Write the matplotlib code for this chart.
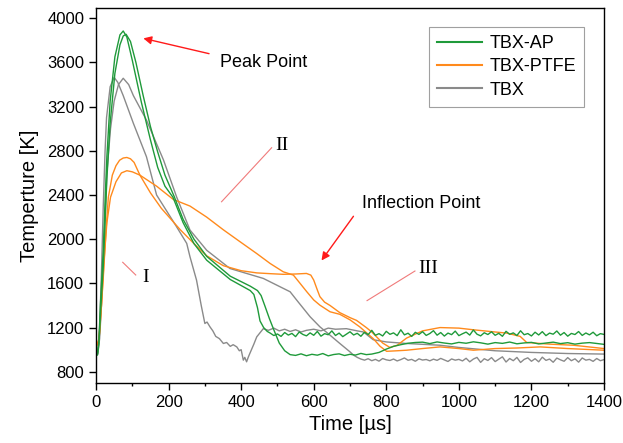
import numpy as np
import matplotlib
matplotlib.use("Agg")
import matplotlib.pyplot as plt

plt.rcParams['font.family'] = ['Liberation Sans', 'DejaVu Sans']

# ---- data (time in us, temperature in K) ----
# TBX-AP, test 1 (early drop, noisy tail)
ap1_t = [0, 4, 8, 12, 20, 25, 30, 39, 52, 66, 75, 85, 100, 125, 150, 170, 190, 212,
         240, 270, 305, 370, 425, 435, 445, 452, 462, 472]
ap1_T = [1000, 960, 1080, 1400, 1900, 2350, 2750, 3250, 3650, 3850, 3885, 3830, 3620,
         3240, 2900, 2650, 2480, 2380, 2150, 1960, 1810, 1635, 1535, 1500, 1380, 1260,
         1200, 1165]
ap1_tail_T = [1150, 1128, 1142, 1120, 1155, 1132, 1147, 1118, 1160, 1138,
              1125, 1152, 1130, 1165, 1122, 1145, 1135, 1170, 1128, 1150,
              1118, 1140, 1162, 1133, 1148, 1121, 1158, 1136, 1175, 1130,
              1145, 1124, 1166, 1139, 1152, 1127, 1180, 1134, 1149, 1120,
              1157, 1138, 1163, 1129, 1146, 1172, 1131, 1155, 1123, 1150,
              1136, 1168, 1127, 1144, 1159, 1132, 1178, 1140, 1125, 1153,
              1137, 1162, 1130, 1148, 1121, 1166, 1139, 1152, 1128, 1171,
              1135, 1146, 1124, 1158, 1133, 1163, 1127, 1150, 1140, 1169,
              1131, 1155, 1122, 1147, 1137, 1164, 1129, 1151, 1134, 1158,
              1126, 1145, 1138]

# TBX-AP, test 2 (later drop, low flat then recovery)
ap2_t = [0, 4, 8, 12, 20, 25, 30, 39, 52, 66, 75, 83, 95, 110, 130, 150, 170, 190,
         215, 240, 270, 305, 370, 425, 445, 455, 465, 478, 490, 505, 520]
ap2_T = [980, 950, 1050, 1300, 1750, 2150, 2550, 3050, 3500, 3760, 3840, 3855, 3790,
         3600, 3300, 3020, 2790, 2580, 2390, 2180, 2000, 1845, 1665, 1575, 1535, 1490,
         1400, 1280, 1180, 1060, 990]
ap2_flat_T = [955, 948, 962, 945, 958, 950, 965, 944, 956, 962, 947, 958, 951, 966, 955, 960]
ap2_rise_t = [780, 800, 820, 840, 860, 880]
ap2_rise_T = [975, 1005, 1030, 1045, 1058, 1065]
ap2_tail_T = [1068, 1055, 1070, 1060, 1052, 1066, 1058, 1071, 1062, 1050, 1064, 1057, 1069,
              1053, 1061, 1066, 1052, 1060, 1068, 1055, 1063, 1050, 1059, 1064, 1056, 1048]

# TBX-PTFE, test 1 (plateau / inflection point)
pt1_t = [0, 4, 8, 14, 20, 27, 34, 45, 55, 65, 75, 85, 95, 105, 121, 150, 180, 231, 270,
         305, 351, 400, 443, 480, 516, 550, 580, 592, 600, 610, 617, 630, 645, 672, 700,
         718, 745, 760, 775, 790, 810, 830, 856, 900, 948, 1000, 1040, 1100, 1132, 1169,
         1187, 1250, 1316, 1400]
pt1_T = [1080, 1050, 1100, 1350, 1650, 2050, 2380, 2580, 2665, 2715, 2735, 2740, 2728,
         2695, 2580, 2420, 2280, 2090, 1960, 1850, 1760, 1715, 1695, 1688, 1682, 1685,
         1690, 1675, 1630, 1540, 1480, 1430, 1400, 1335, 1290, 1265, 1200, 1160, 1110,
         1060, 1020, 1040, 1105, 1170, 1200, 1195, 1180, 1160, 1150, 1120, 1065, 1050,
         1040, 1010]

# TBX-PTFE, test 2
pt2_t = [0, 5, 10, 15, 22, 30, 40, 55, 70, 85, 100, 121, 167, 213, 259, 305, 351, 400,
         443, 480, 516, 544, 560, 581, 600, 617, 645, 672, 700, 727, 764, 783, 801, 830,
         856, 900, 948, 1000, 1040, 1100, 1160, 1224, 1300, 1400]
pt2_T = [1060, 1040, 1150, 1400, 1800, 2150, 2380, 2520, 2600, 2620, 2610, 2580, 2480,
         2360, 2300, 2200, 2085, 1970, 1870, 1780, 1705, 1675, 1610, 1524, 1450, 1403,
         1343, 1320, 1270, 1206, 1100, 1030, 985, 990, 995, 1010, 1025, 1010, 995, 1010,
         1015, 1025, 1010, 995]

# TBX, test 1 (fast drop, dip near 400 us)
tb1_t = [0, 5, 10, 15, 20, 25, 29, 39, 50, 60, 75, 103, 139, 167, 222, 250, 259, 277,
         290, 300, 306, 314, 322, 330, 340, 351, 360, 370, 378, 388, 395, 400, 406, 410,
         415, 420, 424, 435, 443, 461, 475, 490, 505, 520, 535, 550, 565, 580, 600, 620,
         640, 660, 690, 720, 737, 764, 800, 856, 948, 1000, 1100, 1200, 1300, 1400]
tb1_T = [1000, 980, 1200, 1700, 2300, 2800, 3100, 3380, 3465, 3420, 3300, 3049, 2747,
         2400, 2113, 1962, 1841, 1630, 1400, 1237, 1250, 1207, 1170, 1120, 1100, 1056,
         1065, 1030, 1045, 1025, 990, 1000, 905, 930, 890, 935, 966, 1050, 1116, 1190,
         1175, 1195, 1170, 1185, 1165, 1180, 1160, 1175, 1185, 1170, 1195, 1185, 1190,
         1170, 1160, 1090, 1070, 1056, 1040, 1020, 990, 975, 965, 960]

# TBX, test 2 (slow drop, noisy low tail)
tb2_t = [0, 5, 10, 15, 20, 25, 30, 40, 50, 62, 75, 90, 103, 139, 186, 222, 259, 305,
         369, 461, 535, 553, 590, 617, 645, 672, 700, 710]
tb2_T = [1000, 960, 1100, 1400, 1800, 2200, 2600, 3000, 3250, 3400, 3457, 3400, 3300,
         3079, 2717, 2384, 2083, 1900, 1735, 1645, 1524, 1449, 1298, 1207, 1131, 1056,
         980, 950]
tb2_tail_T = [930, 915, 905, 918, 900, 912, 896, 920, 908, 902,
              915, 898, 910, 925, 904, 912, 895, 917, 906, 911,
              899, 914, 903, 921, 907, 893, 916, 905, 912, 898,
              922, 890, 915, 930, 885, 918, 902, 928, 892, 914,
              935, 888, 920, 900, 930, 884, 912, 926, 895, 918,
              890, 932, 903, 915, 886, 924, 908, 895, 928, 900,
              917, 887, 925, 905, 912, 894, 920, 900, 910]

green = '#1f9a3a'
orange = '#ff8a1c'
gray = '#8a8a8a'

fig = plt.figure(figsize=(6.23, 4.43), dpi=100)
ax = fig.add_axes([0.1541, 0.1354, 0.8154, 0.8465])

# assemble the series
ap1_x = ap1_t + list(np.arange(480, 1401, 10))
ap1_y = ap1_T + ap1_tail_T
ap2_x = ap2_t + list(np.arange(535, 761, 15)) + ap2_rise_t + list(np.arange(900, 1401, 20))
ap2_y = ap2_T + ap2_flat_T + ap2_rise_T + ap2_tail_T
tb2_x = tb2_t + list(np.arange(720, 1401, 10))
tb2_y = tb2_T + tb2_tail_T

lw = 1.0
ax.plot(tb1_t, tb1_T, color=gray, lw=lw)
ax.plot(tb2_x, tb2_y, color=gray, lw=lw)
ax.plot(pt1_t, pt1_T, color=orange, lw=lw)
ax.plot(pt2_t, pt2_T, color=orange, lw=lw)
ax.plot(ap1_x, ap1_y, color=green, lw=lw)
ax.plot(ap2_x, ap2_y, color=green, lw=lw)

# legend proxies
h1, = ax.plot([], [], color=green, lw=1.5, label='TBX-AP')
h2, = ax.plot([], [], color=orange, lw=1.5, label='TBX-PTFE')
h3, = ax.plot([], [], color=gray, lw=1.5, label='TBX')
leg = ax.legend(handles=[h1, h2, h3], loc='upper right', bbox_to_anchor=(0.9606, 0.9493),
                borderaxespad=0, fontsize=13, frameon=True, fancybox=False,
                handlelength=2.5, labelspacing=0.35, handletextpad=0.4, borderpad=0.45)
leg.get_frame().set_edgecolor('#888888')
leg.get_frame().set_linewidth(0.8)

ax.set_xlim(0, 1400)
ax.set_ylim(698, 4093)
ax.set_xticks(np.arange(0, 1401, 200))
ax.set_xticks(np.arange(100, 1400, 200), minor=True)
ax.set_yticks(np.arange(800, 4001, 400))
ax.tick_params(axis='both', which='major', direction='out', length=5, width=1,
               labelsize=12, top=False, right=False)
ax.tick_params(axis='x', which='minor', direction='out', length=2.5, width=1)
for s in ax.spines.values():
    s.set_linewidth(1.0)

ax.set_xlabel('Time [\u00b5s]', fontsize=14.5, labelpad=4)
ax.set_ylabel('Temperture [K]', fontsize=14.5, labelpad=6)

# annotations
red = '#ff1a1a'
ax.annotate('', xy=(123, 3824), xytext=(319, 3674),
            arrowprops=dict(arrowstyle='-|>', color=red, lw=1.0, mutation_scale=12))
ax.text(342, 3604, 'Peak Point', fontsize=13, va='center', ha='left')
ax.annotate('', xy=(617, 1787), xytext=(714, 2228),
            arrowprops=dict(arrowstyle='-|>', color=red, lw=1.0, mutation_scale=12))
ax.text(732, 2319, 'Inflection Point', fontsize=13, va='center', ha='left')

pink = '#f07a7a'
ax.plot([73.6, 109.5], [1791, 1676], color=pink, lw=0.8)
ax.plot([484, 346], [2828, 2339], color=pink, lw=0.8)
ax.plot([879, 747], [1712, 1444], color=pink, lw=0.8)
serif = ['Liberation Serif', 'DejaVu Serif']
ax.text(138, 1649, 'I', fontsize=14, family=serif, ha='center', va='center')
ax.text(512, 2850, 'II', fontsize=14, family=serif, ha='center', va='center')
ax.text(915, 1739, 'III', fontsize=14, family=serif, ha='center', va='center')

plt.savefig('out.png', dpi=100)
